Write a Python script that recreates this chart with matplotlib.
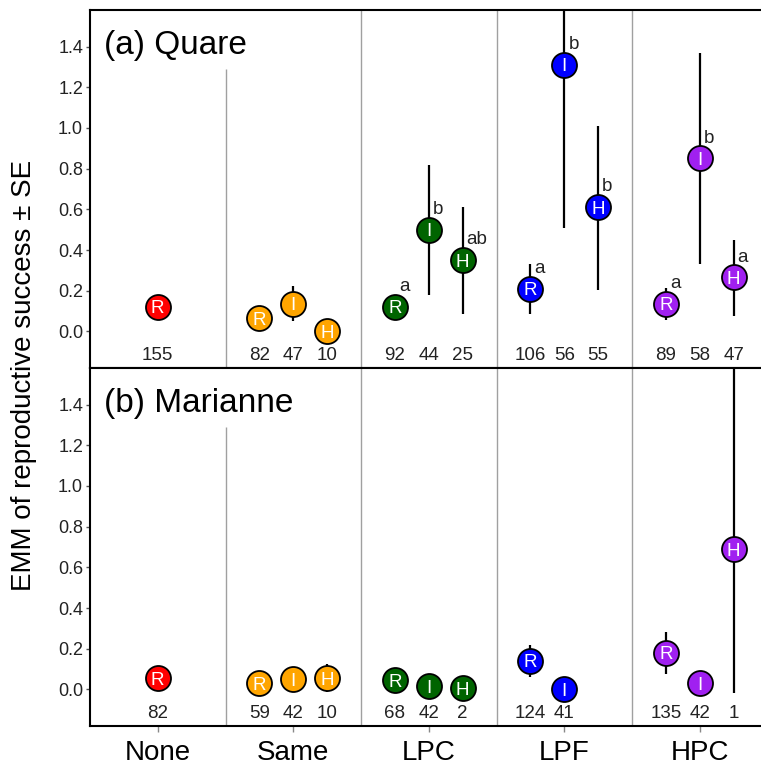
import matplotlib
matplotlib.use('Agg')
import matplotlib.pyplot as plt

plt.rcParams['font.family'] = ['Liberation Sans', 'DejaVu Sans']

groups = ['None', 'Same', 'LPC', 'LPF', 'HPC']
group_colors = ['#FF0000', '#FFA500', '#006400', '#0000FF', '#A020F0']

# ====== (a) Quare
quare_group = [0, 1, 1, 1, 2, 2, 2, 3, 3, 3, 4, 4, 4]
quare_type = ['R', 'R', 'I', 'H', 'R', 'I', 'H', 'R', 'I', 'H', 'R', 'I', 'H']
quare_mean = [0.12, 0.065, 0.137, 0.0, 0.12, 0.50, 0.35, 0.21, 1.31, 0.61, 0.135, 0.85, 0.265]
quare_lo = [0.07, 0.04, 0.05, 0.0, 0.06, 0.18, 0.087, 0.087, 0.51, 0.205, 0.054, 0.33, 0.077]
quare_hi = [0.175, 0.09, 0.225, 0.0, 0.17, 0.82, 0.61, 0.33, 2.10, 1.01, 0.215, 1.37, 0.45]
quare_n = [155, 82, 47, 10, 92, 44, 25, 106, 56, 55, 89, 58, 47]
quare_letters = ['', '', '', '', 'a', 'b', 'ab', 'a', 'b', 'b', 'a', 'b', 'a']

# ====== (b) Marianne
marianne_group = [0, 1, 1, 1, 2, 2, 2, 3, 3, 4, 4, 4]
marianne_type = ['R', 'R', 'I', 'H', 'R', 'I', 'H', 'R', 'I', 'R', 'I', 'H']
marianne_mean = [0.054, 0.03, 0.05, 0.055, 0.046, 0.016, 0.005, 0.14, 0.0, 0.18, 0.03, 0.69]
marianne_lo = [0.04, 0.02, 0.04, -0.015, 0.035, 0.01, 0.0, 0.06, 0.0, 0.075, 0.02, -0.02]
marianne_hi = [0.07, 0.04, 0.06, 0.125, 0.055, 0.02, 0.01, 0.22, 0.0, 0.28, 0.04, 1.70]
marianne_n = [82, 59, 42, 10, 68, 42, 2, 124, 41, 135, 42, 1]
marianne_letters = [''] * 12

offsets = {'R': -0.25, 'I': 0.0, 'H': 0.25}


def draw_panel(ax, title, grp, typ, mean, lo, hi, n, letters):
    ax.set_xlim(-0.5, 4.5)
    ax.set_ylim(-0.18, 1.58)
    # group separators
    ax.vlines(0.5, -0.18, 1.29, color='#A0A0A0', lw=1)
    for xs in [1.5, 2.5, 3.5]:
        ax.axvline(xs, color='#A0A0A0', lw=1)
    for g, t, m, l, h, num, let in zip(grp, typ, mean, lo, hi, n, letters):
        x = g if g == 0 else g + offsets[t]
        ax.vlines(x, l, h, color='black', lw=1.6, zorder=2)
        ax.plot(x, m, 'o', ms=18, mfc=group_colors[g], mec='black', mew=1.3, zorder=3)
        ax.text(x, m, t, color='white', ha='center', va='center_baseline', fontsize=13.5, zorder=4)
        ax.text(x, -0.12, str(num), ha='center', va='center', fontsize=13.5, color='#222222')
        if let:
            ax.text(x + 0.03, m + 0.1, let, ha='left', va='center', fontsize=13.5, color='#222222')
    ax.text(0.02, 0.90, title, transform=ax.transAxes, fontsize=24, ha='left', va='center')
    ax.set_yticks([0.0, 0.2, 0.4, 0.6, 0.8, 1.0, 1.2, 1.4])
    ax.set_yticklabels(['%.1f' % v for v in ax.get_yticks()], fontsize=13, color='#222222')
    ax.tick_params(axis='y', length=3, width=1, color='#555555', pad=2)
    for sp in ax.spines.values():
        sp.set_linewidth(1.5)


fig = plt.figure(figsize=(7.61, 7.67), dpi=100)
ax1 = fig.add_axes([90 / 761, 1 - 368 / 767, 677.5 / 761, 358 / 767])
ax2 = fig.add_axes([90 / 761, 1 - 726 / 767, 677.5 / 761, 358 / 767])

draw_panel(ax1, '(a) Quare', quare_group, quare_type, quare_mean, quare_lo, quare_hi,
           quare_n, quare_letters)
draw_panel(ax2, '(b) Marianne', marianne_group, marianne_type, marianne_mean, marianne_lo,
           marianne_hi, marianne_n, marianne_letters)

ax1.set_xticks([])
ax2.set_xticks(range(len(groups)))
ax2.set_xticklabels(groups, fontsize=20)
ax2.tick_params(axis='x', length=4, width=1, color='#888888', pad=6)

fig.text(24 / 761, 1 - 375 / 767, 'EMM of reproductive success \u00b1 SE', rotation=90,
         ha='center', va='center', fontsize=20)

fig.savefig('out.png', dpi=100)
